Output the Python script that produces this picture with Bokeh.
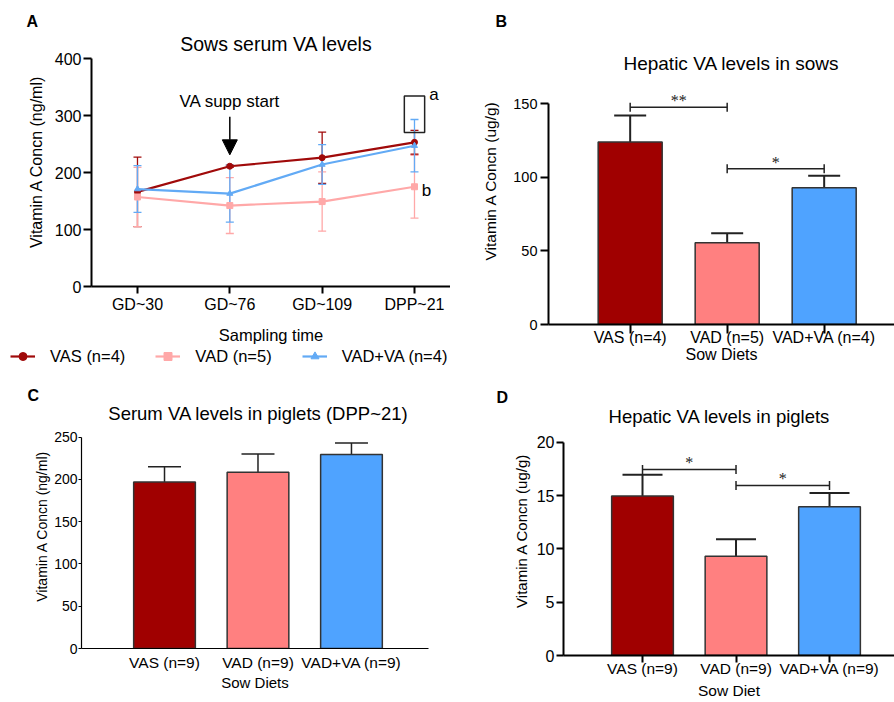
from bokeh.plotting import figure
from bokeh.models import (Range1d, FixedTicker, Whisker, TeeHead, Label, LabelSet, Legend,
                          LegendItem, ColumnDataSource, Arrow, NormalHead, BoxAnnotation, Title)
from bokeh.layouts import row, column
from bokeh.embed import file_html
from bokeh.resources import INLINE

FONT = "Liberation Sans"

# ---------------- data ----------------
diet_groups = ["VAS", "VAD", "VAD+VA"]
bar_colors = ["#A00000", "#FF8080", "#4FA3FF"]
line_colors = ["#A00A0A", "#FFA8A8", "#62AAF5"]
line_markers = ["circle", "square", "triangle"]

time_points = ["GD~30", "GD~76", "GD~109", "DPP~21"]
serum_vas_mean = [166, 211, 226, 253]
serum_vas_sd = [61, 2, 45, 21]
serum_vad_mean = [157, 142, 149, 175]
serum_vad_sd = [52, 49, 52, 55]
serum_vadva_mean = [171, 163, 214, 247]
serum_vadva_sd = [41, 50, 35, 46]
serum_legend = ["VAS (n=4)", "VAD (n=5)", "VAD+VA (n=4)"]
serum_yticks = [0, 100, 200, 300, 400]

sow_liver_labels = ["VAS (n=4)", "VAD (n=5)", "VAD+VA (n=4)"]
sow_liver_mean = [124, 55.5, 93]
sow_liver_err = [18, 6.5, 8]
sow_liver_sig = ["**", "*"]
sow_liver_sig_from = [0, 1]
sow_liver_sig_to = [1, 2]
sow_liver_sig_y = [147.7, 105.8]
sow_liver_yticks = [0, 50, 100, 150]

piglet_serum_labels = ["VAS (n=9)", "VAD (n=9)", "VAD+VA (n=9)"]
piglet_serum_mean = [197, 208.5, 229.5]
piglet_serum_err = [18, 21.5, 13.5]
piglet_serum_yticks = [0, 50, 100, 150, 200, 250]

piglet_liver_labels = ["VAS (n=9)", "VAD (n=9)", "VAD+VA (n=9)"]
piglet_liver_mean = [14.95, 9.3, 13.95]
piglet_liver_err = [2.0, 1.6, 1.3]
piglet_liver_sig = ["*", "*"]
piglet_liver_sig_from = [0, 1]
piglet_liver_sig_to = [1, 2]
piglet_liver_sig_y = [17.45, 15.95]
piglet_liver_yticks = [0, 5, 10, 15, 20]

# annotation anchors (panel A)
supp_start_time = 1
supp_arrow_from, supp_arrow_to = 298, 231
box_time = 3
box_bottom, box_top = 270, 334


def make_fig(w, h, bl, br, bt, bb, xr, yr):
    p = figure(width=w, height=h, x_range=Range1d(*xr), y_range=Range1d(*yr),
               output_backend="svg", toolbar_location=None, frame_align=False,
               min_border_left=bl, min_border_right=br,
               min_border_top=bt, min_border_bottom=bb)
    p.outline_line_color = None
    p.grid.grid_line_color = None
    p.background_fill_color = "white"
    p.border_fill_color = "white"
    for ax in (p.xaxis[0], p.yaxis[0]):
        ax.minor_tick_line_color = None
        ax.major_tick_in = 0
        ax.axis_label_text_font = FONT
        ax.major_label_text_font = FONT
        ax.axis_label_text_font_style = "normal"
        ax.axis_line_color = "black"
        ax.major_tick_line_color = "black"
        ax.major_label_text_color = "black"
        ax.axis_label_text_color = "black"
    return p


def add_titles(p, origin, letter, letter_offset, letter_standoff, title, px, py, size):
    """Panel letter as the plot title; panel heading as a label near the frame top."""
    p.title = Title(text=letter, align="left", offset=letter_offset, text_font=FONT,
                    text_font_size="16px", text_font_style="bold", text_color="black",
                    standoff=letter_standoff)
    ox, oy = origin
    fl = ox + p.min_border_left
    ftop = oy + p.min_border_top
    fh = p.height - p.min_border_top - p.min_border_bottom
    y0, y1 = p.y_range.start, p.y_range.end
    ydata = y1 - (py - ftop) * (y1 - y0) / fh
    p.add_layout(Label(x=px - fl, y=ydata, x_units="screen", y_units="data",
                       text=title, text_align="center", text_baseline="middle",
                       text_font=FONT, text_font_size=size, text_color="black"))


def style_axes(p, lw, xtick_out, xstand, xlab_stand, xtick_size, xlab_size,
               ytick_out, ystand, ylab_stand, ytick_size, ylab_size):
    xa, ya = p.xaxis[0], p.yaxis[0]
    xa.axis_line_width = lw
    ya.axis_line_width = lw
    xa.major_tick_line_width = lw
    ya.major_tick_line_width = lw
    xa.major_tick_out = xtick_out
    xa.major_label_standoff = xstand
    xa.axis_label_standoff = xlab_stand
    xa.major_label_text_font_size = xtick_size
    xa.axis_label_text_font_size = xlab_size
    ya.major_tick_out = ytick_out
    ya.major_label_standoff = ystand
    ya.axis_label_standoff = ylab_stand
    ya.major_label_text_font_size = ytick_size
    ya.axis_label_text_font_size = ylab_size


# ---------------- Panel A ----------------
pA = make_fig(450, 346, 91, 0, 36, 60, (-0.498, 3.39), (0, 438.6))
style_axes(pA, 2, 7, 2, 10, "16px", "16.5px", 8, 2, 7, "16px", "16px")
pA.xaxis.ticker = FixedTicker(ticks=list(range(len(time_points))))
pA.xaxis.major_label_overrides = {i: t for i, t in enumerate(time_points)}
pA.yaxis.ticker = FixedTicker(ticks=serum_yticks)
pA.yaxis.bounds = (0, 400)
pA.xaxis.axis_label = "Sampling time"
pA.yaxis.axis_label = "Vitamin A Concn (ng/ml)"
add_titles(pA, (0, 0), "A", -65, 13, "Sows serum VA levels", 276, 43, "19.5px")

series = [(serum_vas_mean, serum_vas_sd), (serum_vad_mean, serum_vad_sd),
          (serum_vadva_mean, serum_vadva_sd)]
for k, (m, s) in enumerate(series):
    src = ColumnDataSource(dict(x=list(range(len(time_points))), y=m,
                                lo=[a - b for a, b in zip(m, s)],
                                hi=[a + b for a, b in zip(m, s)]))
    c = line_colors[k]
    w = Whisker(source=src, base="x", lower="lo", upper="hi", line_color=c, line_width=1.3,
                upper_head=TeeHead(size=8, line_color=c, line_width=1.3),
                lower_head=TeeHead(size=8, line_color=c, line_width=1.3), level="underlay")
    pA.add_layout(w)
for k, (m, s) in enumerate(series):
    src = ColumnDataSource(dict(x=list(range(len(time_points))), y=m))
    c = line_colors[k]
    pA.line("x", "y", source=src, line_color=c, line_width=2.2)
    pA.scatter("x", "y", source=src, marker=line_markers[k], size=6,
               fill_color=c, line_color=c)

pA.add_layout(Arrow(x_start=supp_start_time, y_start=supp_arrow_from,
                    x_end=supp_start_time, y_end=supp_arrow_to, line_width=1.5,
                    line_color="black",
                    end=NormalHead(size=15, fill_color="black", line_color="black")))
pA.add_layout(Label(x=supp_start_time, y=325, text="VA supp start", text_align="center",
                    text_baseline="middle", text_font=FONT, text_font_size="17px",
                    text_color="black"))
pA.add_layout(BoxAnnotation(left=box_time - 0.11, right=box_time + 0.11, bottom=box_bottom,
                            top=box_top, fill_alpha=0, line_color="#222222", line_alpha=1,
                            line_width=1.5))
pA.add_layout(Label(x=box_time + 0.21, y=336, text="a", text_align="center",
                    text_baseline="middle", text_font=FONT, text_font_size="17px",
                    text_color="black"))
pA.add_layout(Label(x=box_time + 0.13, y=168, text="b", text_align="center",
                    text_baseline="middle", text_font=FONT, text_font_size="17px",
                    text_color="black"))

# legend strip under panel A (series drawn outside its visible range; only the legend shows)
pLeg = figure(width=450, height=24, x_range=Range1d(0, 1), y_range=Range1d(0, 1),
              x_axis_type=None, y_axis_type=None, output_backend="svg",
              toolbar_location=None, frame_align=False, min_border=0)
pLeg.outline_line_color = None
pLeg.grid.grid_line_color = None
pLeg.title.visible = False
legend_items = []
for k, (m, s) in enumerate(series):
    c = line_colors[k]
    src = ColumnDataSource(dict(x=list(range(len(time_points))), y=m))
    lr = pLeg.line("x", "y", source=src, line_color=c, line_width=2.2)
    sr = pLeg.scatter("x", "y", source=src, marker=line_markers[k], size=4,
                      fill_color=c, line_color=c)
    legend_items.append(LegendItem(label=serum_legend[k], renderers=[lr, sr]))
leg = Legend(items=legend_items, orientation="horizontal", location=(10, 4),
             glyph_width=25, glyph_height=20, label_standoff=15, spacing=30,
             padding=0, margin=0, border_line_color=None, background_fill_alpha=0,
             label_text_font=FONT, label_text_font_size="16.5px", label_height=20,
             label_text_color="black")
pLeg.add_layout(leg)


# ---------------- bar panel helper ----------------
def bar_panel(p, labels, mean, err, line_w, cap, sig=None):
    n = len(labels)
    src = ColumnDataSource(dict(x=list(range(n)), top=mean,
                                up=[a + b for a, b in zip(mean, err)],
                                color=bar_colors[:n]))
    p.add_layout(Whisker(source=src, base="x", lower="top", upper="up",
                         line_color="#222222", line_width=line_w,
                         upper_head=TeeHead(size=cap, line_color="#222222", line_width=line_w),
                         lower_head=None, level="underlay"))
    p.vbar(x="x", top="top", width=0.66, source=src, fill_color="color",
           line_color="#333333", line_width=1.5)
    p.xaxis.ticker = FixedTicker(ticks=list(range(n)))
    p.xaxis.major_label_overrides = {i: t for i, t in enumerate(labels)}
    if sig is not None:
        texts, x0, x1, ys = sig
        ssrc = ColumnDataSource(dict(y=ys, x0=x0, x1=x1, text=texts,
                                     xm=[(a + b) / 2 for a, b in zip(x0, x1)]))
        p.add_layout(Whisker(source=ssrc, base="y", lower="x0", upper="x1",
                             dimension="width", line_color="#222222", line_width=1.5,
                             upper_head=TeeHead(size=9, line_color="#222222", line_width=1.5),
                             lower_head=TeeHead(size=9, line_color="#222222", line_width=1.5)))
        p.add_layout(LabelSet(source=ssrc, x="xm", y="y", text="text", text_align="center",
                              text_baseline="alphabetic", y_offset=1, text_font=FONT,
                              text_font_size="16px", text_color="#222222"))


# ---------------- Panel B ----------------
pB = make_fig(444, 370, 98, 0, 36, 46, (-0.842, 2.725), (0, 195.7))
style_axes(pB, 2, 9, -5, -3, "16px", "16px", 8, 3, 11, "14.5px", "15.5px")
pB.yaxis.ticker = FixedTicker(ticks=sow_liver_yticks)
pB.yaxis.bounds = (0, 150)
pB.xaxis.axis_label = "Sow Diets"
pB.yaxis.axis_label = "Vitamin A Concn (ug/g)"
bar_panel(pB, sow_liver_labels, sow_liver_mean, sow_liver_err, 2, 32,
          (sow_liver_sig, sow_liver_sig_from, sow_liver_sig_to, sow_liver_sig_y))
add_titles(pB, (450, 0), "B", -53, 13, "Hepatic VA levels in sows", 731, 62.5, "19px")

# ---------------- Panel C ----------------
pC = make_fig(450, 332, 81, 22, 33, 54, (-0.888, 2.824), (0, 289.8))
style_axes(pC, 1.2, 0, 5, 0, "15.5px", "15px", 3, 1, 1, "14px", "14px")
pC.xaxis.major_tick_line_color = None
pC.yaxis.ticker = FixedTicker(ticks=piglet_serum_yticks)
pC.yaxis.bounds = (0, 250)
pC.xaxis.axis_label = "Sow Diets"
pC.yaxis.axis_label = "Vitamin A Concn (ng/ml)"
bar_panel(pC, piglet_serum_labels, piglet_serum_mean, piglet_serum_err, 1.5, 33)
add_titles(pC, (0, 370), "C", -54, 0, "Serum VA levels in piglets (DPP~21)", 258, 412.5, "18.5px")

# ---------------- Panel D ----------------
pD = make_fig(444, 332, 113, 0, 35, 47, (-0.845, 2.695), (0, 23.45))
style_axes(pD, 2, 7, -3, 2, "15.5px", "15.5px", 7, 2, 4, "16px", "15px")
pD.yaxis.ticker = FixedTicker(ticks=piglet_liver_yticks)
pD.yaxis.bounds = (0, 20)
pD.xaxis.axis_label = "Sow Diet"
pD.yaxis.axis_label = "Vitamin A Concn (ug/g)"
bar_panel(pD, piglet_liver_labels, piglet_liver_mean, piglet_liver_err, 2, 40,
          (piglet_liver_sig, piglet_liver_sig_from, piglet_liver_sig_to, piglet_liver_sig_y))
add_titles(pD, (450, 370), "D", -67, 0, "Hepatic VA levels in piglets", 719, 416, "18.5px")

layout = column(row(column(pA, pLeg), pB), row(pC, pD))
open("out.html", "w").write(file_html(layout, INLINE))
